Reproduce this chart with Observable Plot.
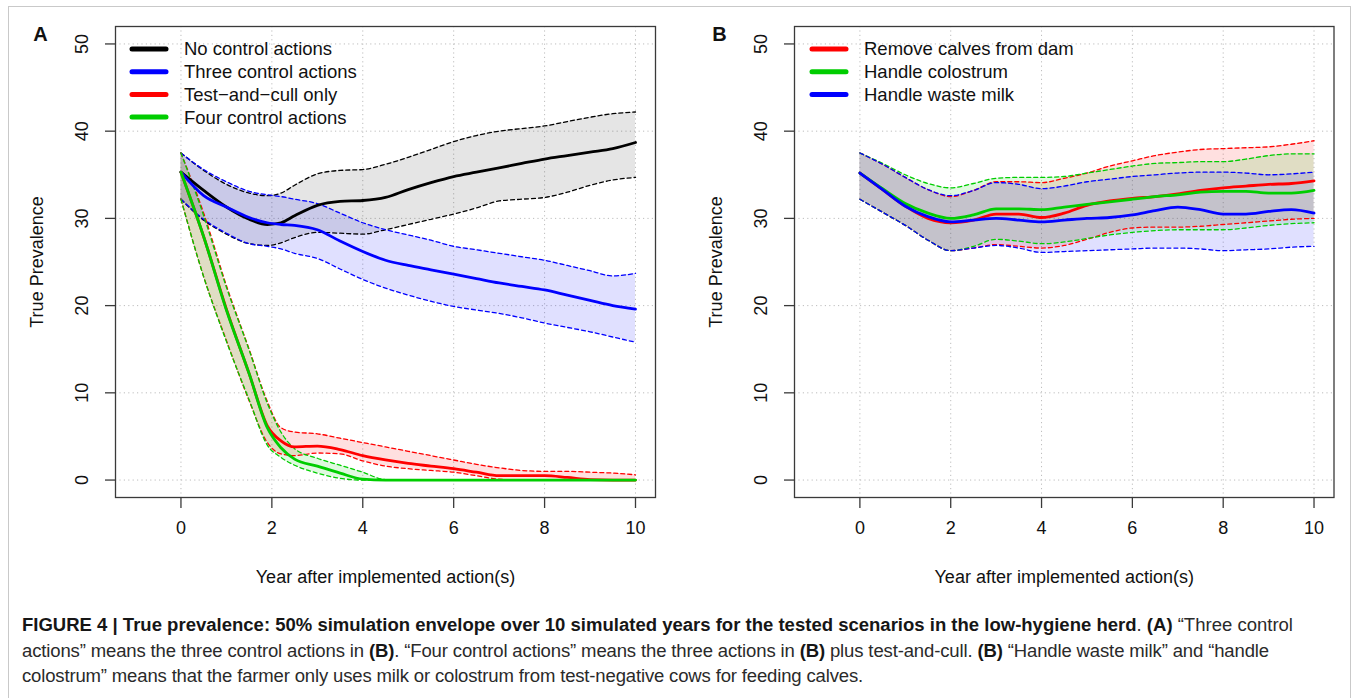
<!DOCTYPE html>
<html>
<head>
<meta charset="utf-8">
<script src="https://cdn.jsdelivr.net/npm/d3@7"></script>
<script src="https://cdn.jsdelivr.net/npm/@observablehq/plot@0.6"></script>
<style>
  html, body { margin: 0; padding: 0; background: #fff; }
  body { width: 1355px; height: 698px; position: relative; overflow: hidden; font-family: "Liberation Sans", Arial, sans-serif; }
  #border { position: absolute; left: 8px; top: 6px; width: 1343px; height: 760px; border: 1.5px solid #c9c9c9; box-sizing: border-box; }
  #panelA { position: absolute; left: 0; top: 0; }
  #panelB { position: absolute; left: 680px; top: 0; }
  .legend { position: absolute; top: 0; }
  #caption { position: absolute; left: 22px; top: 612px; font-size: 18px; line-height: 25.5px; color: #2a2a2a; white-space: nowrap; }
  #caption .cl { display: block; }
  #caption .cl span.inner { display: inline-block; }
  #caption b { font-weight: bold; color: #161616; }
</style>
</head>
<body>
<div id="border"></div>
<div id="panelA"></div>
<div id="panelB"></div>
<div id="caption">
  <div class="cl"><span class="inner"><b>FIGURE 4 | True prevalence: 50% simulation envelope over 10 simulated years for the tested scenarios in the low-hygiene herd</b>. <b>(A)</b> “Three control</span></div>
  <div class="cl"><span class="inner">actions” means the three control actions in <b>(B)</b>. “Four control actions” means the three actions in <b>(B)</b> plus test-and-cull. <b>(B)</b> “Handle waste milk” and “handle</span></div>
  <div class="cl"><span class="inner">colostrum” means that the farmer only uses milk or colostrum from test-negative cows for feeding calves.</span></div>
</div>
<script>
// ---------- Data ----------
const xTicks = [0, 2, 4, 6, 8, 10];
const yTicks = [0, 10, 20, 30, 40, 50];

// Panel A
const yearsA = [0, 0.5, 1, 1.5, 1.9, 2.2, 2.5, 3, 3.5, 4, 4.5, 5, 5.5, 6, 6.5, 7, 7.5, 8, 8.5, 9, 9.5, 10];
const noneMed = [35.3, 33.2, 31.3, 29.9, 29.3, 29.5, 30.3, 31.5, 31.95, 32.05, 32.4, 33.3, 34.1, 34.8, 35.3, 35.8, 36.3, 36.8, 37.2, 37.6, 38.0, 38.7];
const noneHi  = [37.5, 35.5, 33.9, 32.9, 32.6, 32.9, 33.8, 35.1, 35.5, 35.6, 36.2, 37.0, 37.9, 38.8, 39.5, 40.0, 40.3, 40.6, 41.1, 41.6, 42.0, 42.2];
const noneLo  = [32.2, 29.8, 28.2, 27.1, 26.9, 27.2, 27.8, 28.4, 28.3, 28.2, 28.7, 29.3, 29.9, 30.5, 31.2, 32.0, 32.2, 32.4, 33.0, 33.8, 34.4, 34.7];

const threeMed = [35.3, 32.6, 31.3, 30.1, 29.5, 29.3, 29.2, 28.7, 27.4, 26.2, 25.2, 24.6, 24.1, 23.6, 23.1, 22.6, 22.2, 21.8, 21.2, 20.6, 20.0, 19.6];
const threeHi  = [37.5, 35.6, 34.2, 33.1, 32.7, 32.5, 32.2, 31.7, 30.6, 29.5, 28.7, 28.1, 27.5, 26.8, 26.4, 26.0, 25.6, 25.2, 24.6, 24.0, 23.4, 23.7];
const threeLo  = [32.2, 29.9, 28.3, 27.1, 26.8, 26.5, 26.0, 25.4, 24.2, 23.0, 22.0, 21.2, 20.5, 19.9, 19.5, 19.1, 18.6, 18.0, 17.5, 17.0, 16.4, 15.8];

const cullMed = [35.3, 27.9, 19.6, 12.2, 6.2, 4.5, 3.8, 3.9, 3.5, 2.8, 2.3, 1.9, 1.6, 1.3, 0.9, 0.5, 0.5, 0.5, 0.3, 0.05, 0, 0];
const cullHi  = [37.5, 30.6, 22.3, 15.0, 9.0, 6.0, 5.5, 5.3, 4.8, 4.3, 3.8, 3.3, 2.8, 2.3, 1.8, 1.4, 1.1, 1.0, 1.0, 0.9, 0.8, 0.6];
const cullLo  = [32.2, 23.3, 16.0, 9.1, 4.3, 3.0, 2.8, 3.1, 3.0, 2.2, 1.6, 1.3, 1.1, 0.9, 0.5, 0.1, 0, 0, 0, 0, 0, 0];

const fourMed = [35.3, 27.9, 19.5, 12.2, 6.0, 3.7, 2.4, 1.6, 0.8, 0.1, 0, 0, 0, 0, 0, 0, 0, 0, 0, 0, 0, 0];
const fourHi  = [37.5, 30.3, 22.1, 14.9, 8.8, 5.5, 3.6, 2.5, 1.7, 0.9, 0.05, 0, 0, 0, 0, 0, 0, 0, 0, 0, 0, 0];
const fourLo  = [32.2, 23.3, 15.9, 9.2, 4.0, 2.6, 1.7, 0.8, 0.2, 0, 0, 0, 0, 0, 0, 0, 0, 0, 0, 0, 0, 0];

// Panel B
const yearsB = [0, 0.5, 1, 1.5, 2, 2.5, 3, 3.5, 4, 4.5, 5, 5.5, 6, 6.5, 7, 7.5, 8, 8.5, 9, 9.5, 10];
const calvesMed = [35.2, 33.3, 31.4, 30.0, 29.5, 29.8, 30.5, 30.5, 30.1, 30.6, 31.5, 32.0, 32.3, 32.5, 32.8, 33.2, 33.5, 33.7, 33.9, 34.0, 34.3];
const calvesHi  = [37.5, 36.2, 34.7, 33.3, 32.5, 33.2, 34.2, 34.2, 34.1, 34.6, 35.2, 36.0, 36.6, 37.2, 37.6, 37.9, 38.0, 38.1, 38.2, 38.5, 38.9];
const calvesLo  = [32.2, 30.7, 29.2, 27.5, 26.3, 26.6, 27.0, 26.8, 26.6, 26.9, 27.6, 28.4, 28.9, 29.0, 29.0, 29.1, 29.3, 29.5, 29.7, 29.9, 30.0];

const colostrumMed = [35.2, 33.4, 31.7, 30.6, 30.0, 30.4, 31.1, 31.1, 31.0, 31.3, 31.6, 31.9, 32.2, 32.5, 32.7, 33.0, 33.1, 33.1, 32.9, 32.9, 33.2];
const colostrumHi  = [37.5, 36.3, 35.0, 34.0, 33.5, 34.0, 34.6, 34.7, 34.7, 34.8, 35.2, 35.6, 36.0, 36.3, 36.4, 36.5, 36.5, 36.8, 37.2, 37.4, 37.4];
const colostrumLo  = [32.2, 30.7, 29.2, 27.5, 26.3, 26.8, 27.6, 27.4, 27.1, 27.3, 27.7, 28.1, 28.4, 28.6, 28.7, 28.7, 28.7, 28.9, 29.2, 29.4, 29.5];

const milkMed = [35.2, 33.3, 31.4, 30.2, 29.6, 29.8, 30.0, 29.8, 29.6, 29.8, 30.0, 30.1, 30.4, 30.9, 31.3, 31.0, 30.5, 30.5, 30.8, 31.0, 30.6];
const milkHi  = [37.5, 36.2, 34.7, 33.3, 32.6, 33.2, 34.1, 33.9, 33.4, 33.7, 34.2, 34.5, 34.8, 35.0, 35.2, 35.3, 35.3, 35.2, 35.0, 35.1, 35.3];
const milkLo  = [32.2, 30.7, 29.2, 27.5, 26.3, 26.6, 26.9, 26.6, 26.1, 26.2, 26.3, 26.4, 26.5, 26.6, 26.6, 26.5, 26.3, 26.4, 26.5, 26.7, 26.8];

const seriesA = ["No control actions", "Three control actions", "Test\u2212and\u2212cull only", "Four control actions"];
const seriesB = ["Remove calves from dam", "Handle colostrum", "Handle waste milk"];
const colorsA = ["#000000", "#0000ff", "#ff0000", "#00cd00"];
const colorsB = ["#ff0000", "#00cd00", "#0000ff"];

const xLabel = "Year after implemented action(s)";
const yLabel = "True Prevalence";

// ---------- helpers ----------
function rows(years, lo, med, hi) {
  return years.map((x, i) => ({ x, lo: lo[i], med: med[i], hi: hi[i] }));
}
const FONT = "'Liberation Sans', Arial, sans-serif";
const fillOpacity = { "#000000": 0.1, "#0000ff": 0.12, "#ff0000": 0.12, "#00cd00": 0.12 };

function panel(groups, tag, width, marginLeft, marginRight) {
  const curve = "monotone-x";
  const marks = [
    Plot.gridX(xTicks, { stroke: "#bdbdbd", strokeOpacity: 1, strokeDasharray: "1.2,3.2", strokeWidth: 1 }),
    Plot.gridY(yTicks, { stroke: "#bdbdbd", strokeOpacity: 1, strokeDasharray: "1.2,3.2", strokeWidth: 1 })
  ];
  for (const g of groups) {
    marks.push(Plot.areaY(g.data, { x: "x", y1: "lo", y2: "hi", fill: g.color, fillOpacity: fillOpacity[g.color], curve }));
  }
  for (const g of groups) {
    marks.push(Plot.lineY(g.data, { x: "x", y: "hi", stroke: g.color, strokeWidth: 1.3, strokeDasharray: "4,3", curve }));
    marks.push(Plot.lineY(g.data, { x: "x", y: "lo", stroke: g.color, strokeWidth: 1.3, strokeDasharray: "4,3", curve }));
  }
  for (const g of groups) {
    marks.push(Plot.lineY(g.data, { x: "x", y: "med", stroke: g.color, strokeWidth: 2.8, curve }));
  }
  marks.push(
    Plot.frame({ stroke: "#3a3a3a", strokeWidth: 1.3 }),
    Plot.axisX(xTicks, { label: null, tickSize: 11, tickPadding: 13, fontSize: 18, stroke: "#3a3a3a", strokeWidth: 1.3, fill: "#111", tickFormat: d => String(d) }),
    Plot.axisY(yTicks, { label: null, tickSize: 10, text: null, stroke: "#3a3a3a", strokeWidth: 1.3 }),
    Plot.text(yTicks, { y: d => d, text: d => String(d), frameAnchor: "left", dx: -33, rotate: -90, textAnchor: "middle", lineAnchor: "middle", fontSize: 18, fill: "#111" }),
    Plot.text([xLabel], { text: d => d, frameAnchor: "bottom", dy: 80, lineAnchor: "middle", fontSize: 18, fill: "#111" }),
    Plot.text([yLabel], { text: d => d, frameAnchor: "left", dx: -78, rotate: -90, textAnchor: "middle", lineAnchor: "middle", fontSize: 18, fill: "#111" }),
    Plot.text([tag], { text: d => d, frameAnchor: "top-left", dx: -75, dy: 8, fontSize: 20, fontWeight: "bold", textAnchor: "middle", lineAnchor: "middle", fill: "#111" })
  );
  return Plot.plot({
    width, height: 600,
    marginLeft, marginRight, marginTop: 26, marginBottom: 103,
    x: { domain: [-1.44, 10.44], label: null },
    y: { domain: [-2, 52], label: null },
    style: { fontFamily: FONT, background: "transparent", overflow: "visible" },
    marks
  });
}

const groupsA = [
  { color: colorsA[0], data: rows(yearsA, noneLo, noneMed, noneHi) },
  { color: colorsA[1], data: rows(yearsA, threeLo, threeMed, threeHi) },
  { color: colorsA[2], data: rows(yearsA, cullLo, cullMed, cullHi) },
  { color: colorsA[3], data: rows(yearsA, fourLo, fourMed, fourHi) }
];
const groupsB = [
  { color: colorsB[0], data: rows(yearsB, calvesLo, calvesMed, calvesHi) },
  { color: colorsB[1], data: rows(yearsB, colostrumLo, colostrumMed, colostrumHi) },
  { color: colorsB[2], data: rows(yearsB, milkLo, milkMed, milkHi) }
];

document.getElementById("panelA").append(panel(groupsA, "A", 680, 115, 25));
document.getElementById("panelB").append(panel(groupsB, "B", 675, 114, 21.5));

// ---------- legends ----------
function legend(parentLeft, names, colors) {
  const svg = d3.select("body").append("svg")
    .attr("class", "legend")
    .style("left", parentLeft + "px")
    .attr("width", 460).attr("height", 140);
  const rowH = 22.7;
  names.forEach((n, i) => {
    const y = 49 + i * rowH;
    svg.append("line").attr("x1", 132).attr("x2", 166).attr("y1", y).attr("y2", y)
      .attr("stroke", colors[i]).attr("stroke-width", 5).attr("stroke-linecap", "round");
    svg.append("text").attr("x", 184).attr("y", y).attr("dy", "0.35em")
      .attr("font-family", FONT).attr("font-size", 18.5).attr("fill", "#111").text(n);
  });
}
legend(0, seriesA, colorsA);
legend(680, seriesB, colorsB);

// ---------- caption: fit lines to the reference widths ----------
(function fitCaption() {
  const cap = document.getElementById("caption");
  const lines = [...cap.querySelectorAll(".inner")];
  const targets = [1271, 1247, 841];
  const w0 = lines[0].getBoundingClientRect().width;
  cap.style.fontSize = (18 * targets[0] / w0).toFixed(2) + "px";
  lines.forEach((el, i) => {
    const w = el.getBoundingClientRect().width;
    const n = el.textContent.length;
    const ls = (targets[i] - w) / n;
    el.style.letterSpacing = ls.toFixed(3) + "px";
  });
})();
</script>
</body>
</html>
